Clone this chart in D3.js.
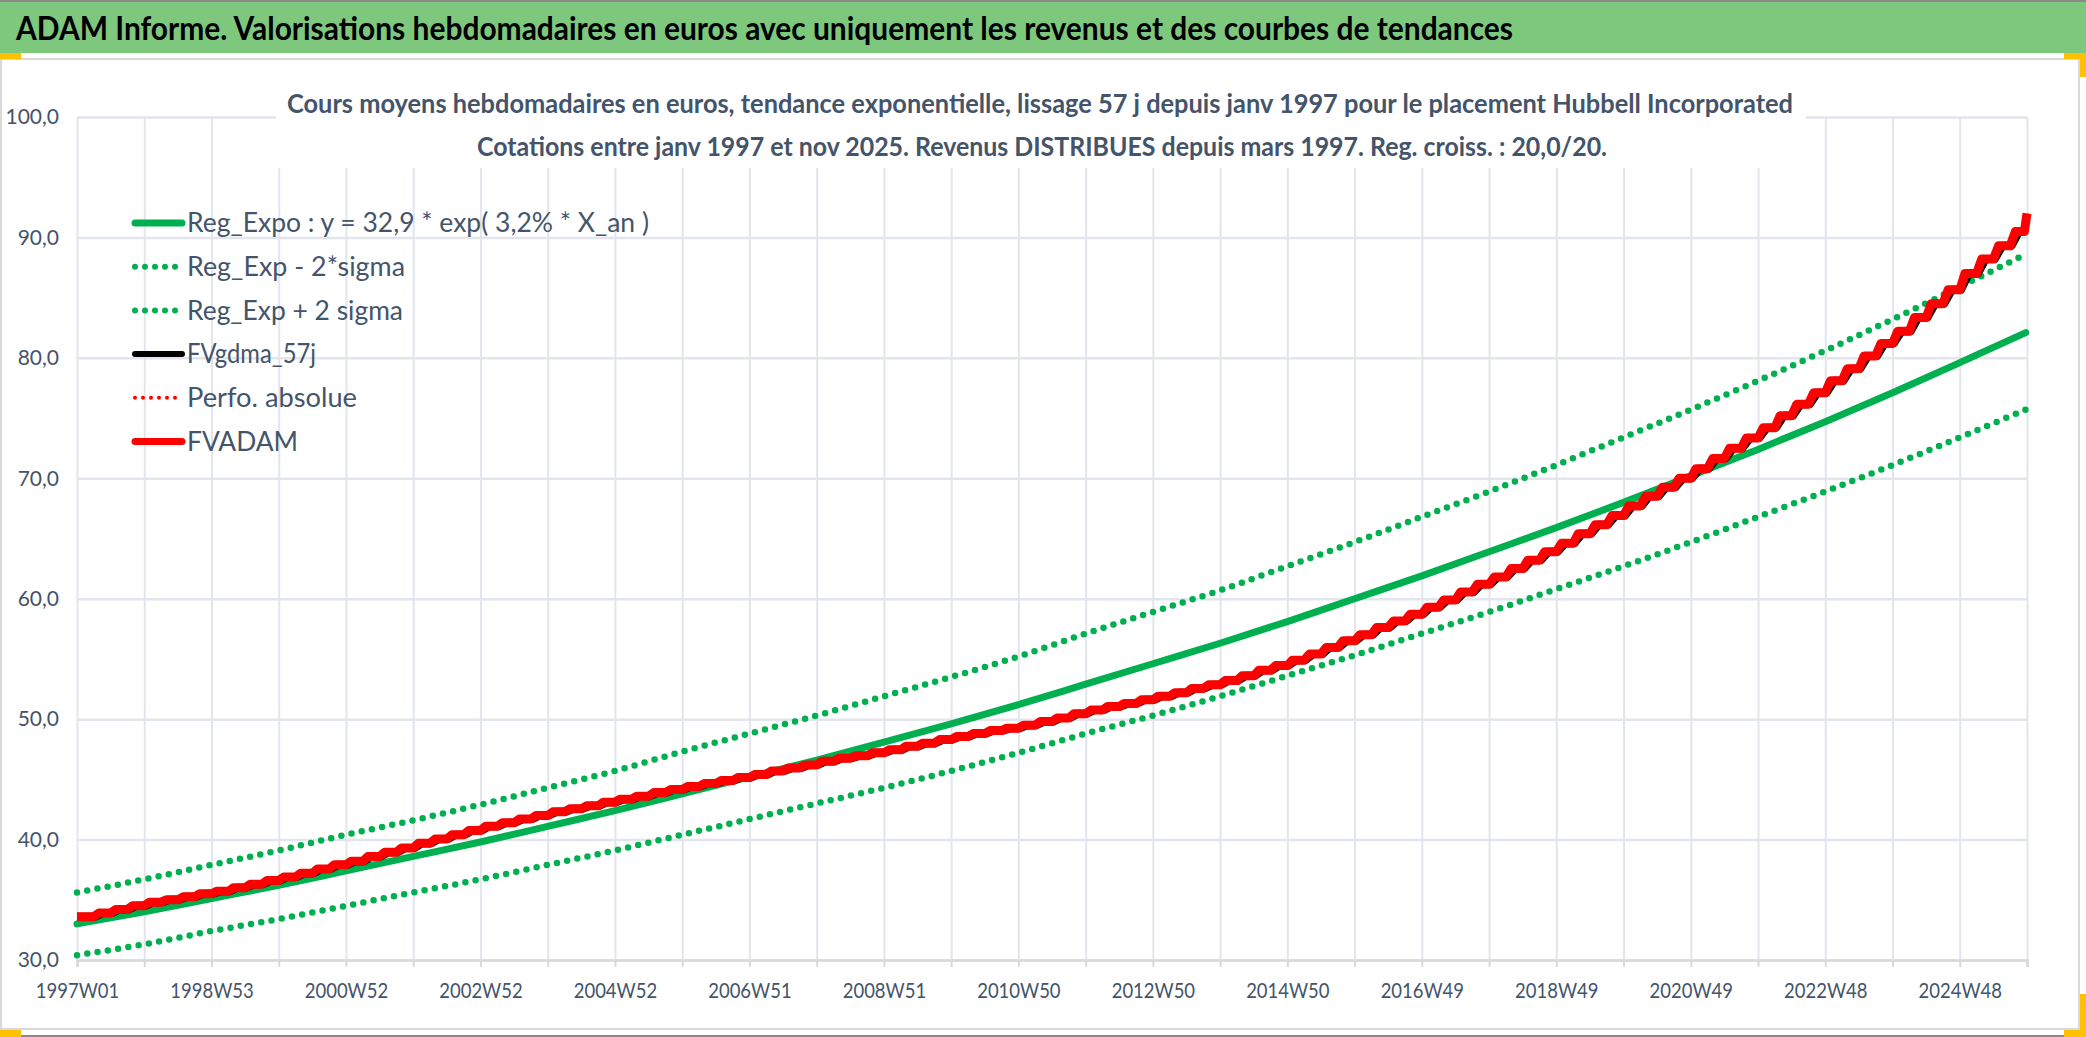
<!DOCTYPE html>
<html>
<head>
<meta charset="utf-8">
<script src="https://cdn.jsdelivr.net/npm/d3@7"></script>
<style>
  body { margin: 0; background: #fff; }
  svg { display: block; }
  .tick text { font-family: Lato, "Noto Sans", sans-serif; }
</style>
</head>
<body>
<svg id="chart" width="2086" height="1037"></svg>
<script>
// x labels (every 104 weeks on a weekly category axis)
const tickLabels = ["1997W01", "1998W53", "2000W52", "2002W52", "2004W52", "2006W51", "2008W51",
  "2010W50", "2012W50", "2014W50", "2016W49", "2018W49", "2020W49", "2022W48", "2024W48"];

// week index of the yearly samples used for the trend curves
const yearWeeks = [0, 52, 104, 156, 208, 260, 312, 364, 416, 468, 520, 572, 624, 676, 728, 780,
  832, 884, 936, 988, 1040, 1092, 1144, 1196, 1248, 1300, 1352, 1404, 1456, 1507];

const regExpo = [33.0, 34.0, 35.1, 36.2, 37.4, 38.6, 39.8, 41.1, 42.4, 43.8, 45.2, 46.6, 48.1, 49.6,
  51.2, 52.9, 54.6, 56.3, 58.1, 60.0, 61.9, 63.9, 65.9, 68.0, 70.2, 72.4, 74.7, 77.1, 79.6, 82.1];
const regMinus2s = [30.4, 31.3, 32.4, 33.4, 34.5, 35.6, 36.7, 37.9, 39.1, 40.4, 41.7, 43.0, 44.3, 45.7,
  47.2, 48.8, 50.3, 51.9, 53.6, 55.3, 57.1, 58.9, 60.8, 62.7, 64.7, 66.8, 68.9, 71.1, 73.4, 75.7];
const regPlus2s = [35.6, 36.7, 37.9, 39.1, 40.4, 41.6, 42.9, 44.3, 45.7, 47.3, 48.8, 50.3, 51.9, 53.5,
  55.2, 57.1, 58.9, 60.7, 62.7, 64.7, 66.8, 68.9, 71.1, 73.4, 75.7, 78.1, 80.6, 83.2, 85.9, 88.6];

// FVADAM : one level per quarter (revenue paid every 13 weeks)
const fvadamQuarters = [
  33.6, 33.9, 34.2, 34.5, 34.8, 35.0, 35.25, 35.5, 35.7, 36.0, 36.3, 36.6,
  36.9, 37.2, 37.55, 37.9, 38.2, 38.6, 38.95, 39.3, 39.7, 40.05, 40.4, 40.75,
  41.1, 41.4, 41.7, 42.0, 42.3, 42.55, 42.8, 43.1, 43.35, 43.6, 43.9, 44.15,
  44.4, 44.65, 44.9, 45.15, 45.4, 45.7, 45.95, 46.2, 46.5, 46.75, 46.95, 47.2,
  47.45, 47.75, 48.0, 48.3, 48.55, 48.8, 49.05, 49.25, 49.5, 49.8, 50.1, 50.45,
  50.75, 51.05, 51.3, 51.6, 51.9, 52.2, 52.55, 52.85, 53.2, 53.6, 54.05, 54.45,
  54.9, 55.4, 55.95, 56.5, 57.0, 57.6, 58.15, 58.7, 59.3, 59.9, 60.55, 61.2,
  61.8, 62.5, 63.2, 63.9, 64.6, 65.4, 66.15, 66.9, 67.7, 68.5, 69.25, 70.0,
  70.8, 71.65, 72.5, 73.35, 74.2, 75.2, 76.15, 77.1, 78.1, 79.1, 80.15, 81.2,
  82.2, 83.35, 84.5, 85.65, 87.0, 88.2, 89.3, 90.5];
const fvadamLast = 92.0;

const yTicks = [30, 40, 50, 60, 70, 80, 90, 100];

const legendItems = [
  { label: "Reg_Expo : y = 32,9 * exp( 3,2% *  X_an )", color: "#00B050", dash: null, w: 7, len: 462 },
  { label: "Reg_Exp - 2*sigma", color: "#00B050", dash: "0 10", w: 6, len: 218 },
  { label: "Reg_Exp + 2 sigma", color: "#00B050", dash: "0 10", w: 6, len: 216 },
  { label: "FVgdma_57j", color: "#000000", dash: null, w: 6, len: 129 },
  { label: "Perfo. absolue", color: "#FF0000", dash: "0 8", w: 4, len: 170 },
  { label: "FVADAM", color: "#FF0000", dash: null, w: 7, len: 111 },
];

const W = 2086, H = 1037;
const pLeft = 77, pRight = 2027, pTop = 117, pBottom = 960;
const svg = d3.select("#chart");
const textCol = "#44546A";

// frame
svg.append("rect").attr("x", 0).attr("y", 0).attr("width", W).attr("height", H).attr("fill", "#fff");
svg.append("rect").attr("x", 1).attr("y", 59).attr("width", W - 8).attr("height", 970)
  .attr("fill", "none").attr("stroke", "#D9D9D9").attr("stroke-width", 2);
svg.append("rect").attr("x", 0).attr("y", 0).attr("width", W).attr("height", 53).attr("fill", "#7EC87E");
svg.append("line").attr("x1", 0).attr("x2", W).attr("y1", 1).attr("y2", 1).attr("stroke", "#8A8A8A").attr("stroke-width", 2);
svg.append("line").attr("x1", 0).attr("x2", W).attr("y1", 1036).attr("y2", 1036).attr("stroke", "#8A8A8A").attr("stroke-width", 2);
const yellow = "#FFC000";
[[0, 53, 21, 6], [2064, 53, 22, 6], [2080, 53, 6, 24], [0, 1030, 21, 7], [2064, 1030, 22, 7], [2080, 994, 6, 43]]
  .forEach(r => svg.append("rect").attr("x", r[0]).attr("y", r[1]).attr("width", r[2]).attr("height", r[3]).attr("fill", yellow));

svg.append("text")
  .attr("x", 16).attr("y", 40)
  .attr("font-family", "Lato, 'Noto Sans', sans-serif").attr("font-weight", "bold").attr("font-size", 32)
  .attr("textLength", 1497).attr("lengthAdjust", "spacingAndGlyphs")
  .text("ADAM Informe. Valorisations hebdomadaires en euros avec uniquement les revenus et des courbes de tendances");

// scales
const x = d3.scaleLinear().domain([0, 1508]).range([pLeft, pRight]);
const y = d3.scaleLinear().domain([30, 100]).range([pBottom, pTop]);

const gridWeeks = d3.range(0, 1509, 52);

// grid
const g = svg.append("g");
g.append("g").attr("transform", `translate(0,${pBottom})`)
  .call(d3.axisBottom(x).tickValues(gridWeeks).tickSize(-(pBottom - pTop)).tickFormat(""))
  .call(a => a.select(".domain").remove())
  .call(a => a.selectAll("line").attr("stroke", "#E2E5EB").attr("stroke-width", 2));
g.append("g").attr("transform", `translate(${pLeft},0)`)
  .call(d3.axisLeft(y).tickValues(yTicks).tickSize(-(pRight - pLeft)).tickFormat(""))
  .call(a => a.select(".domain").remove())
  .call(a => a.selectAll("line").attr("stroke", "#E2E5EB").attr("stroke-width", 2.5));

// axes labels
const yAxis = g.append("g").attr("transform", `translate(${pLeft},0)`)
  .call(d3.axisLeft(y).tickValues(yTicks).tickSize(0).tickPadding(18)
    .tickFormat(d => d3.format(".1f")(d).replace(".", ",")));
yAxis.select(".domain").remove();
yAxis.selectAll("text").attr("font-size", 21).attr("fill", textCol);

const xAxis = g.append("g").attr("transform", `translate(0,${pBottom})`)
  .call(d3.axisBottom(x).tickValues(gridWeeks).tickSize(7).tickPadding(16)
    .tickFormat(d => d % 104 === 0 ? tickLabels[d / 104] : ""));
xAxis.select(".domain").attr("stroke", "#D9D9D9").attr("stroke-width", 2.5);
xAxis.selectAll("line").attr("stroke", "#D9D9D9").attr("stroke-width", 2);
xAxis.selectAll("text").attr("font-size", 21).attr("fill", textCol).attr("transform", "scale(0.88,1)");

// title (white box over the grid)
svg.append("rect").attr("x", 276).attr("y", 84).attr("width", 1530).attr("height", 84).attr("fill", "#fff");
const sub = svg.append("g").attr("font-family", "Lato, 'Noto Sans', sans-serif")
  .attr("font-weight", "bold").attr("font-size", 26).attr("fill", textCol).attr("text-anchor", "middle");
sub.append("text").attr("x", 1040).attr("y", 113).attr("textLength", 1506).attr("lengthAdjust", "spacingAndGlyphs")
  .text("Cours moyens hebdomadaires en euros, tendance exponentielle, lissage 57 j depuis janv 1997 pour le placement Hubbell Incorporated");
sub.append("text").attr("x", 1042).attr("y", 156).attr("textLength", 1130).attr("lengthAdjust", "spacingAndGlyphs")
  .text("Cotations entre janv 1997 et nov 2025. Revenus DISTRIBUES depuis mars 1997. Reg. croiss. : 20,0/20.");

// series
const smooth = d3.line().x(d => x(d[0])).y(d => y(d[1])).curve(d3.curveMonotoneX);
const straight = d3.line().x(d => x(d[0])).y(d => y(d[1]));
const plot = svg.append("g");

function trend(vals, dash, w) {
  plot.append("path")
    .datum(vals.map((v, i) => [yearWeeks[i], v]))
    .attr("d", smooth)
    .attr("fill", "none").attr("stroke", "#00B050").attr("stroke-width", w)
    .attr("stroke-linecap", "round").attr("stroke-dasharray", dash);
}
trend(regExpo, null, 7);
trend(regMinus2s, "0 10.4", 6.5);
trend(regPlus2s, "0 10.4", 6.5);

// FVgdma_57j : smoothed version lagging the quarterly steps
const gdmaPts = [[0, fvadamQuarters[0]]];
fvadamQuarters.forEach((v, q) => {
  if (q > 0) { gdmaPts.push([q * 13 + 1, fvadamQuarters[q - 1]]); gdmaPts.push([q * 13 + 7, v]); }
});
gdmaPts.push([1507, fvadamQuarters[fvadamQuarters.length - 1]]);
plot.append("path").datum(gdmaPts)
  .attr("d", straight)
  .attr("fill", "none").attr("stroke", "#000").attr("stroke-width", 8).attr("stroke-linejoin", "round");

// FVADAM : each quarterly step rises over a few weeks
const advPts = [[0, fvadamQuarters[0]]];
fvadamQuarters.forEach((v, q) => {
  if (q > 0) { advPts.push([q * 13, fvadamQuarters[q - 1]]); advPts.push([q * 13 + 4, v]); }
});
advPts.push([1506, fvadamQuarters[fvadamQuarters.length - 1]]);
advPts.push([1508, fvadamLast]);
plot.append("path").datum(advPts)
  .attr("d", straight)
  .attr("fill", "none").attr("stroke", "#FF0000").attr("stroke-width", 9).attr("stroke-linejoin", "round");

// legend
const leg = svg.append("g").attr("transform", "translate(133,223)");
legendItems.forEach((it, i) => {
  const row = leg.append("g").attr("transform", `translate(0,${i * 43.7})`);
  row.append("line").attr("x1", 2).attr("x2", 49).attr("y1", 0).attr("y2", 0)
    .attr("stroke", it.color).attr("stroke-width", it.w).attr("stroke-linecap", "round")
    .attr("stroke-dasharray", it.dash);
  row.append("text").attr("x", 54).attr("y", 0).attr("dy", "0.35em")
    .attr("font-family", "Lato, 'Noto Sans', sans-serif").attr("font-size", 26).attr("fill", textCol)
    .attr("textLength", it.len).attr("lengthAdjust", "spacingAndGlyphs")
    .text(it.label);
});
</script>
</body>
</html>
